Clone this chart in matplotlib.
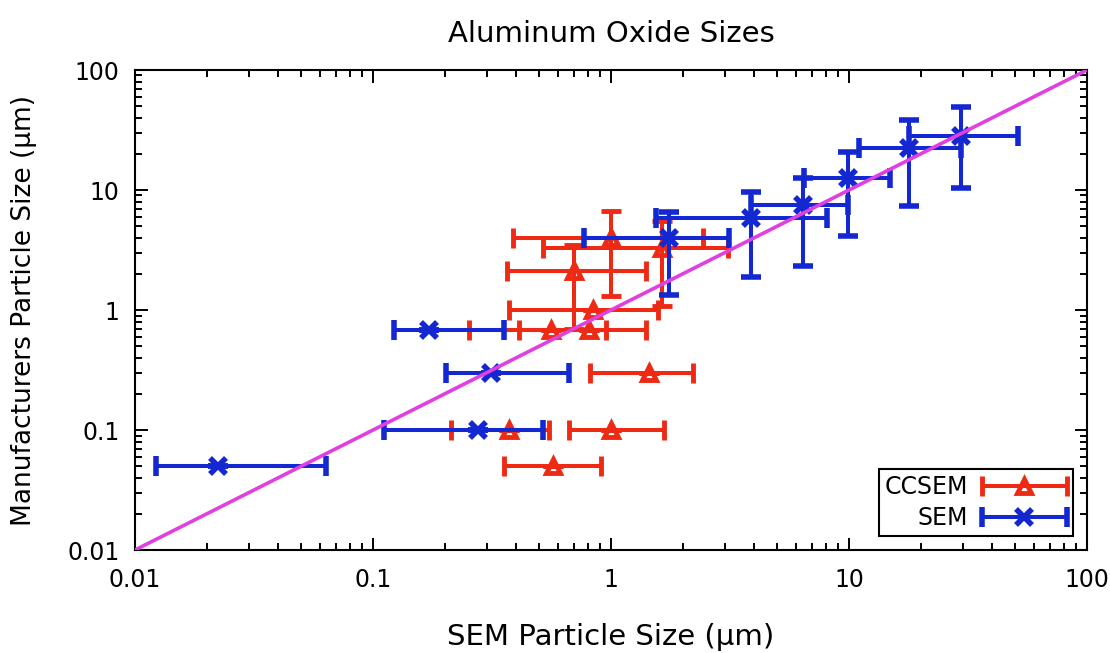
import matplotlib
matplotlib.use("Agg")
import matplotlib.pyplot as plt
import matplotlib.ticker as ticker
from matplotlib.legend_handler import HandlerErrorbar
from matplotlib.container import ErrorbarContainer

# CCSEM measured sizes vs. manufacturer's stated size (um)
ccsem_x = [1.0, 1.64, 0.70, 0.84, 0.56, 0.81, 1.45, 0.374, 1.0, 0.57]
ccsem_x_lo = [0.386, 0.516, 0.366, 0.372, 0.254, 0.412, 0.818, 0.212, 0.668, 0.356]
ccsem_x_hi = [2.43, 3.09, 1.40, 1.57, 0.952, 1.40, 2.20, 0.55, 1.67, 0.908]
ccsem_y = [4.0, 3.3, 2.1, 1.0, 0.68, 0.68, 0.30, 0.10, 0.10, 0.05]
ccsem_y_lo = [1.3, 1.07, 0.70, 1.0, 0.68, 0.68, 0.30, 0.10, 0.10, 0.05]
ccsem_y_hi = [6.7, 5.5, 3.5, 1.0, 0.68, 0.68, 0.30, 0.10, 0.10, 0.05]

# manual SEM sizes
sem_x = [0.0223, 0.276, 0.313, 0.172, 1.76, 3.87, 6.4, 9.9, 17.9, 29.5]
sem_x_lo = [0.0122, 0.1115, 0.203, 0.123, 0.773, 1.55, 3.87, 6.5, 11.0, 17.9]
sem_x_hi = [0.0635, 0.516, 0.668, 0.356, 3.12, 8.1, 9.9, 14.8, 29.5, 51.1]
sem_y = [0.05, 0.10, 0.30, 0.68, 4.0, 5.9, 7.5, 12.5, 22.3, 28.0]
sem_y_lo = [0.05, 0.10, 0.30, 0.68, 1.33, 1.9, 2.33, 4.1, 7.4, 10.3]
sem_y_hi = [0.05, 0.10, 0.30, 0.68, 6.6, 9.7, 12.6, 20.9, 38.0, 49.5]

# 1:1 line
line_x = [0.01, 100]
line_y = [0.01, 100]

RED = "#ee2a14"
BLUE = "#1428d2"
MAGENTA = "#e040e0"


def errs(v, lo, hi):
    return [[a - b for a, b in zip(v, lo)], [c - a for a, c in zip(v, hi)]]


fig = plt.figure(figsize=(11.1, 6.53), dpi=100)
ax = fig.add_axes([0.1216, 0.1577, 0.9793 - 0.1216, 0.8928 - 0.1577])
ax.set_xscale("log")
ax.set_yscale("log")

cc = ax.errorbar(ccsem_x, ccsem_y,
                 xerr=errs(ccsem_x, ccsem_x_lo, ccsem_x_hi),
                 yerr=errs(ccsem_y, ccsem_y_lo, ccsem_y_hi),
                 fmt="^", color=RED, ms=10, mfc="none", mew=3.5,
                 elinewidth=2.9, capsize=7, capthick=2.9, label="CCSEM", zorder=2)
se = ax.errorbar(sem_x, sem_y,
                 xerr=errs(sem_x, sem_x_lo, sem_x_hi),
                 yerr=errs(sem_y, sem_y_lo, sem_y_hi),
                 fmt="x", color=BLUE, ms=11, mew=4,
                 elinewidth=2.9, capsize=7, capthick=2.9, label="SEM", zorder=3)
ax.plot(line_x, line_y, color=MAGENTA, lw=2.6, zorder=4)

ax.set_xlim(0.01, 100)
ax.set_ylim(0.01, 100)

fmt = ticker.FuncFormatter(lambda v, p: f"{v:g}")
ax.xaxis.set_major_formatter(fmt)
ax.yaxis.set_major_formatter(fmt)
ax.tick_params(which="both", direction="in", top=True, right=True, width=1.4, labelsize=17)
ax.tick_params(which="major", length=9, pad=11)
ax.tick_params(axis="x", which="major", pad=13)
ax.tick_params(which="minor", length=5)
for s in ax.spines.values():
    s.set_linewidth(1.5)

ax.set_title("Aluminum Oxide Sizes", fontsize=21, pad=20)
ax.set_xlabel("SEM Particle Size (µm)", fontsize=21, labelpad=22)
ax.set_ylabel("Manufacturers Particle Size (µm)", fontsize=19, labelpad=22)

# legend samples: horizontal bar only
cc.has_yerr = False
se.has_yerr = False
leg = ax.legend(handles=[cc, se], loc="lower right", markerfirst=False,
                fontsize=17, handlelength=3.6, handletextpad=0.6,
                labelspacing=0.3, borderaxespad=0.6, borderpad=0.25,
                fancybox=False, framealpha=1, edgecolor="black",
                handler_map={ErrorbarContainer: HandlerErrorbar(xerr_size=1.8)})
leg.get_frame().set_linewidth(1.5)

fig.savefig("out.png", dpi=100)
